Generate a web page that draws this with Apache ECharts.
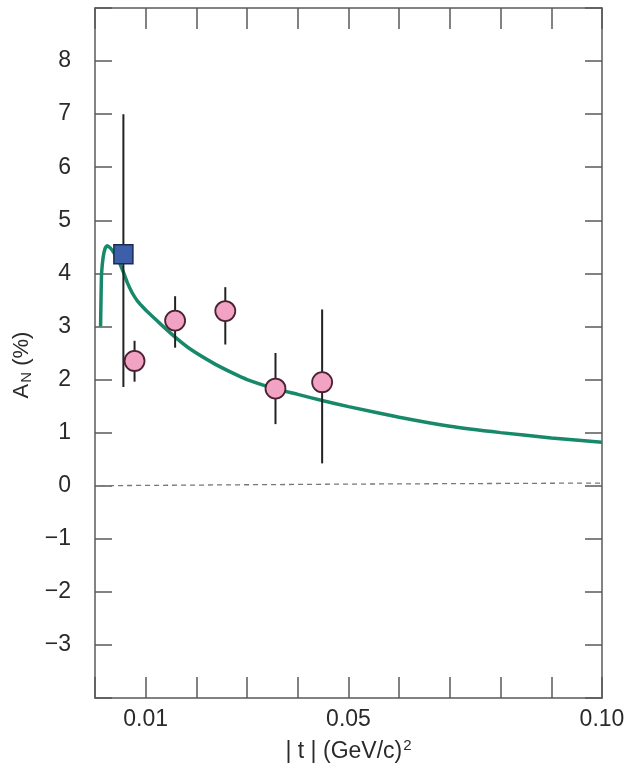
<!DOCTYPE html>
<html>
<head>
<meta charset="utf-8">
<script src="https://cdn.jsdelivr.net/npm/echarts@6/dist/echarts.min.js"></script>
<style>html,body{margin:0;padding:0;background:#fff;}#c{width:629px;height:771px;}</style>
</head>
<body>
<div id="c"></div>
<script>
// Theory curve (solid)
var curveX = [0.0011,0.0012,0.0013,0.0016,0.0020,0.0024,0.0030,0.0038,0.0047,0.0057,0.0064,0.0073,0.0083,0.0093,0.0103,0.0130,0.0158,0.0190,0.0235,0.027,0.030,0.0358,0.040,0.045,0.050,0.060,0.070,0.080,0.090,0.100];
var curveY = [3.0,3.6,4.0,4.3,4.47,4.52,4.48,4.38,4.23,4.0,3.82,3.64,3.49,3.38,3.28,3.04,2.80,2.56,2.30,2.13,2.0,1.82,1.72,1.60,1.49,1.29,1.12,1.00,0.90,0.82];
// Dashed curve
var dashX = [0.001,0.05,0.1];
var dashY = [0.0,0.03,0.05];
// Pink circles
var pinkX = [0.0078,0.0158,0.0257,0.0356,0.0448];
var pinkY = [2.35,3.11,3.29,1.83,1.95];
var pinkLo = [1.96,2.60,2.66,1.16,0.42];
var pinkHi = [2.73,3.57,3.74,2.50,3.32];
// Blue square
var sqX = [0.0056];
var sqY = [4.36];
var sqLo = [1.86];
var sqHi = [7.0];
// Tick labels
var xTickLabels = ['0.01','0.05','0.10'];
var yTickLabels = ['−3','−2','−1','0','1','2','3','4','5','6','7','8'];

var chart = echarts.init(document.getElementById('c'));
function zip(a,b){return a.map(function(v,i){return [v,b[i]];});}
var errData = [];
sqX.forEach(function(x,i){errData.push([x,sqLo[i],sqHi[i]]);});
pinkX.forEach(function(x,i){errData.push([x,pinkLo[i],pinkHi[i]]);});

var frameColor = '#5a5a5a';
var txtColor = '#2a2a2a';
var fontFam = '"Liberation Sans", Arial, Helvetica, sans-serif';
function xFmt(v){var s=(Math.round(v*100)/100).toFixed(2);return xTickLabels.indexOf(s)>=0?s:'';}
function yFmt(v){var s = v<0 ? '−'+(-v) : String(v);return yTickLabels.indexOf(s)>=0?s:'';}

chart.setOption({
  animation:false,
  backgroundColor:'#fff',
  grid:{left:95,right:27,top:8,bottom:73},
  xAxis:[{
    type:'value',min:0,max:0.1,interval:0.01,position:'bottom',
    axisLine:{show:true,onZero:false,lineStyle:{color:frameColor,width:1.5}},
    axisTick:{show:true,inside:true,length:21,lineStyle:{color:frameColor,width:1.5}},
    splitLine:{show:false},
    axisLabel:{show:true,formatter:xFmt,showMinLabel:true,showMaxLabel:true,margin:10,fontSize:23,color:txtColor,fontFamily:fontFam},
    name:'| t | (GeV/c){sup|2}',nameLocation:'middle',nameGap:40,
    nameTextStyle:{fontSize:23,color:txtColor,fontFamily:fontFam,rich:{sup:{fontSize:15,verticalAlign:'top',padding:[0,0,13,1],color:txtColor,fontFamily:fontFam}}}
  },{
    type:'value',min:0,max:0.1,interval:0.01,position:'top',
    axisLine:{show:true,onZero:false,lineStyle:{color:frameColor,width:1.5}},
    axisTick:{show:true,inside:true,length:21,lineStyle:{color:frameColor,width:1.5}},
    splitLine:{show:false},axisLabel:{show:false}
  }],
  yAxis:[{
    type:'value',min:-4,max:9,interval:1,position:'left',
    axisLine:{show:true,onZero:false,lineStyle:{color:frameColor,width:1.5}},
    axisTick:{show:true,inside:true,length:17,lineStyle:{color:frameColor,width:1.5}},
    splitLine:{show:false},
    axisLabel:{show:true,formatter:yFmt,margin:24,fontSize:23,color:txtColor,fontFamily:fontFam},
    name:'A{sub|N} (%)',nameLocation:'middle',nameGap:60,
    nameTextStyle:{fontSize:22,color:txtColor,fontFamily:fontFam,padding:[0,0,0,-24],rich:{sub:{fontSize:15,verticalAlign:'bottom',padding:[8,0,0,1],color:txtColor,fontFamily:fontFam}}}
  },{
    type:'value',min:-4,max:9,interval:1,position:'right',
    axisLine:{show:true,onZero:false,lineStyle:{color:frameColor,width:1.5}},
    axisTick:{show:true,inside:true,length:17,lineStyle:{color:frameColor,width:1.5}},
    splitLine:{show:false},axisLabel:{show:false}
  }],
  series:[
    {type:'line',data:zip(dashX,dashY),symbol:'none',lineStyle:{color:'#777',width:1.3,type:[5,4]},z:2},
    {type:'line',data:zip(curveX,curveY),symbol:'none',smooth:0.2,lineStyle:{color:'#17896a',width:3.5},z:3},
    {type:'custom',data:errData,z:4,
      renderItem:function(params,api){
        var x=api.value(0);
        var p1=api.coord([x,api.value(1)]);
        var p2=api.coord([x,api.value(2)]);
        return {type:'line',shape:{x1:p1[0],y1:p1[1],x2:p2[0],y2:p2[1]},style:{stroke:'#222',lineWidth:2}};
      }},
    {type:'scatter',data:zip(pinkX,pinkY),symbol:'circle',symbolSize:20,z:5,
      itemStyle:{color:'#f2a3c4',borderColor:'#4a2232',borderWidth:1.8,opacity:1}},
    {type:'scatter',data:zip(sqX,sqY),symbol:'rect',symbolSize:19,z:5,
      itemStyle:{color:'#3d5fa9',borderColor:'#1c2a52',borderWidth:1.5,opacity:1}}
  ]
});
</script>
</body>
</html>
